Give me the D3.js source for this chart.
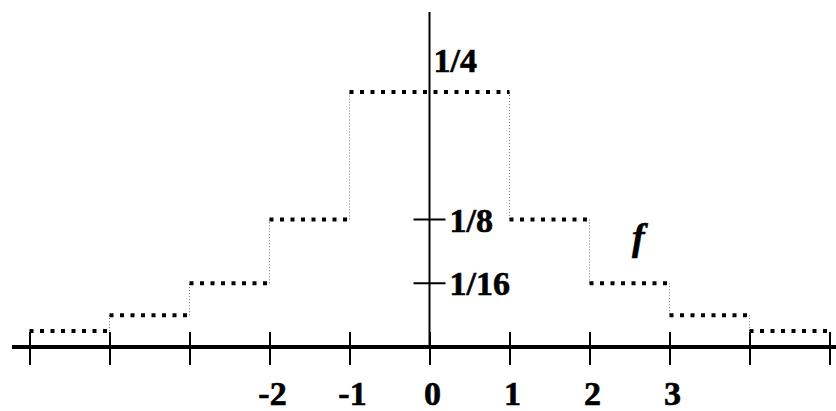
<!DOCTYPE html>
<html>
<head>
<meta charset="utf-8">
<script src="https://cdn.jsdelivr.net/npm/d3@7"></script>
<style>
	body { margin: 0; background: #fff; }
	svg { display: block; }
	.label { font-family: "Liberation Serif", serif; font-weight: bold; font-size: 34px; fill: #000; stroke: #000; stroke-width: 0.6px; }
</style>
</head>
<body>
<div class="container"></div>
<script>
// step function f: value on each interval [start, end)
var stepStarts = [-5, -4, -3, -2, -1, 1, 2, 3, 4];
var stepEnds   = [-4, -3, -2, -1, 1, 2, 3, 4, 5];
var stepValues = [1/64, 1/32, 1/16, 1/8, 1/4, 1/8, 1/16, 1/32, 1/64];

var xTicks = [-5, -4, -3, -2, -1, 0, 1, 2, 3, 4, 5];
var xLabels = [-2, -1, 0, 1, 2, 3];
var yTicks = [1/8, 1/16];
var yLabelValues = [1/4, 1/8, 1/16];
var yLabelTexts = ['1/4', '1/8', '1/16'];

const WIDTH = 836;
const HEIGHT = 411;

var translate = function(x, y){
	return "translate(" + x + "," + y + ")";
};

var svg = d3.select('.container').append('svg')
	.attr('width', WIDTH)
	.attr('height', HEIGHT);

var xScale = d3.scaleLinear()
	.domain([-5, 5])
	.range([29.5, 829.5]);

var yScale = d3.scaleLinear()
	.domain([0, 0.25])
	.range([347, 92]);

var steps = stepStarts.map(function(s, i){
	return {start: s, end: stepEnds[i], value: stepValues[i]};
});

// vertical dotted connectors between neighbouring steps
var joins = steps.slice(1).map(function(s, i){
	return {x: s.start, from: steps[i].value, to: s.value};
});

svg.selectAll('.join').data(joins)
	.enter().append('line')
	.attr('x1', function(d){ return xScale(d.x); })
	.attr('x2', function(d){ return xScale(d.x); })
	.attr('y1', function(d){ return yScale(d.from); })
	.attr('y2', function(d){ return yScale(d.to); })
	.attr('stroke', '#777')
	.attr('stroke-width', 1)
	.attr('stroke-dasharray', '1,2');

svg.selectAll('.step').data(steps)
	.enter().append('line')
	.attr('x1', function(d){ return xScale(d.start); })
	.attr('x2', function(d){ return xScale(d.end); })
	.attr('y1', function(d){ return yScale(d.value); })
	.attr('y2', function(d){ return yScale(d.value); })
	.attr('stroke', '#000')
	.attr('stroke-width', 4)
	.attr('stroke-dasharray', '4,6.5');

// x axis
svg.append('line')
	.attr('x1', 12).attr('x2', WIDTH)
	.attr('y1', yScale(0)).attr('y2', yScale(0))
	.attr('stroke', '#000')
	.attr('stroke-width', 4);

var xAxis = d3.axisBottom(xScale).tickValues(xTicks).tickSize(18).tickFormat('');
var gx = svg.append('g')
	.attr('transform', translate(0, yScale(0)))
	.call(xAxis);
gx.select('.domain').remove();
gx.selectAll('.tick line')
	.attr('y1', -15)
	.attr('stroke', '#000')
	.attr('stroke-width', 2);

svg.selectAll('.xlabel').data(xLabels)
	.enter().append('text')
	.attr('class', 'label')
	.attr('x', function(d){ return xScale(d) + 3; })
	.attr('y', 405)
	.attr('text-anchor', 'middle')
	.text(function(d){ return d < 0 ? '-' + (-d) : d; });

// y axis
svg.append('line')
	.attr('x1', xScale(0)).attr('x2', xScale(0))
	.attr('y1', 12).attr('y2', yScale(0))
	.attr('stroke', '#000')
	.attr('stroke-width', 2);

svg.selectAll('.ytick').data(yTicks)
	.enter().append('line')
	.attr('x1', xScale(0) - 16)
	.attr('x2', xScale(0) + 16)
	.attr('y1', function(d){ return yScale(d); })
	.attr('y2', function(d){ return yScale(d); })
	.attr('stroke', '#000')
	.attr('stroke-width', 2);

svg.selectAll('.ylabel').data(yLabelValues)
	.enter().append('text')
	.attr('class', 'label')
	.attr('x', function(d, i){ return i == 0 ? xScale(0) + 4 : xScale(0) + 20; })
	.attr('y', function(d, i){ return i == 0 ? 72 : yScale(d) + 12; })
	.text(function(d, i){ return yLabelTexts[i]; });

// function name
svg.append('text')
	.attr('class', 'label')
	.attr('x', 632)
	.attr('y', 250)
	.style('font-style', 'italic')
	.style('font-size', '38px')
	.text('f');
</script>
</body>
</html>
